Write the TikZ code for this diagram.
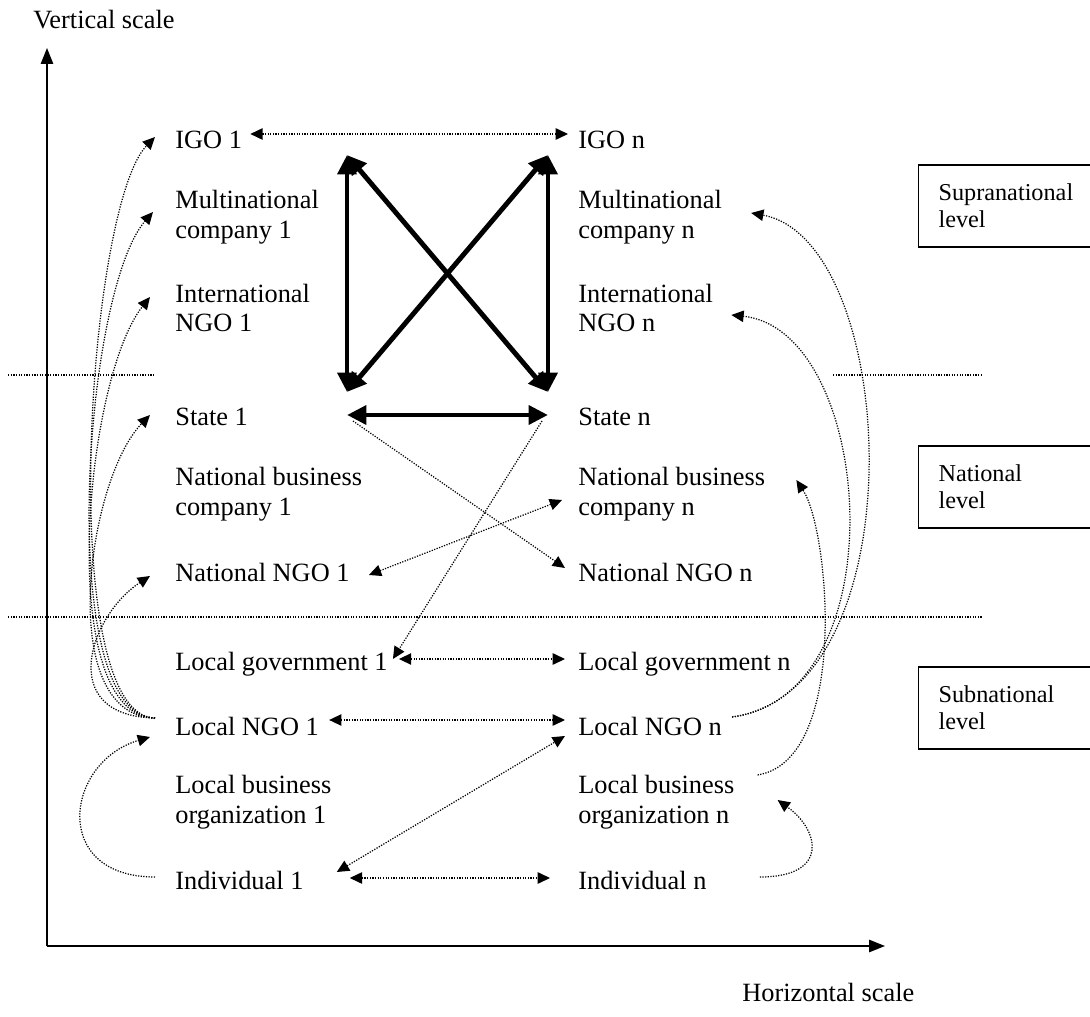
\documentclass[tikz,border=0pt]{standalone}
\usepackage{fontspec}
\setmainfont{Liberation Serif}
\usetikzlibrary{arrows.meta,calc}

\begin{document}
\begin{tikzpicture}[
        x=0.02cm, y=-0.02cm,
        actor/.style={anchor=west, align=left, inner sep=0pt, font=\fontsize{15}{17}\selectfont},
        link/.style={line width=0.7pt, dash pattern=on 0.7pt off 0.8pt, -{Triangle[length=7pt,width=6.5pt]}},
        twolink/.style={link, {Triangle[length=7pt,width=6.5pt]}-{Triangle[length=7pt,width=6.5pt]}},
        bond/.style={line width=2.8pt, {Triangle[length=11pt,width=10.5pt]}-{Triangle[length=11pt,width=10.5pt]}},
        divider/.style={line width=0.7pt, dash pattern=on 0.7pt off 0.8pt},
        axis/.style={line width=0.8pt, -{Triangle[length=9pt,width=7pt]}},
        levelbox/.style={draw, line width=0.8pt, anchor=west, align=left, text width=77pt,
            minimum height=46.5pt, inner xsep=11.3pt, font=\fontsize{13.8}{15.4}\selectfont}
    ]
        \useasboundingbox (0,0) rectangle (1090,1017);

        % Achsen
        \coordinate (origin) at (47,946);
        \coordinate (vtop) at (47,48);
        \coordinate (hend) at (885,946);
        \draw[axis] (origin) -- (vtop);
        \draw[axis] (origin) -- (hend);
        \node[actor] (vlabel) at (33,20) {Vertical scale};
        \node[actor] (hlabel) at (742,992) {Horizontal scale};

        % Trennlinien der Ebenen
        \draw[divider] (8,375) -- (155,375);
        \draw[divider] (833,375) -- (982,375);
        \draw[divider] (8,617) -- (982,617);

        % Ebenen
        \node[levelbox] (supra) at (918,206) {Supranational\\level};
        \node[levelbox] (natl) at (918,487) {National\\level};
        \node[levelbox] (subn) at (918,708) {Subnational\\level};

        % Akteure links
        \node[actor] (igoA) at (175,140) {IGO 1};
        \node[actor] (mncA) at (175,217) {Multinational\\company 1};
        \node[actor] (ingoA) at (175,308) {International\\NGO 1};
        \node[actor] (stateA) at (175,417) {State 1};
        \node[actor] (nbizA) at (175,494) {National business\\company 1};
        \node[actor] (nngoA) at (175,572) {National NGO 1};
        \node[actor] (lgovA) at (175,664) {Local government 1};
        \node[actor] (lngoA) at (175,726) {Local NGO 1};
        \node[actor] (lbizA) at (175,802) {Local business\\organization 1};
        \node[actor] (indA) at (175,880) {Individual 1};

        % Akteure rechts
        \node[actor] (igoB) at (578,140) {IGO n};
        \node[actor] (mncB) at (578,217) {Multinational\\company n};
        \node[actor] (ingoB) at (578,308) {International\\NGO n};
        \node[actor] (stateB) at (578,417) {State n};
        \node[actor] (nbizB) at (578,494) {National business\\company n};
        \node[actor] (nngoB) at (578,572) {National NGO n};
        \node[actor] (lgovB) at (578,664) {Local government n};
        \node[actor] (lngoB) at (578,726) {Local NGO n};
        \node[actor] (lbizB) at (578,802) {Local business\\organization n};
        \node[actor] (indB) at (578,880) {Individual n};

        % Staaten und IGOs
        \coordinate (sqTL) at (347,155);
        \coordinate (sqTR) at (548,155);
        \coordinate (sqBL) at (347,392);
        \coordinate (sqBR) at (548,392);
        \coordinate (hubL) at (347,415);
        \coordinate (hubR) at (548,415);
        \draw[bond] (sqTL) -- (sqBL);
        \draw[bond] (sqTR) -- (sqBR);
        \draw[bond] (sqTL) -- (sqBR);
        \draw[bond] (sqTR) -- (sqBL);
        \draw[bond] (hubL) -- (hubR);

        % horizontale Verbindungen
        \draw[twolink] ($(igoA.east)+(8,-6)$) -- ($(igoB.west)+(-10,-6)$);
        \draw[twolink] ($(nngoA.east)+(19,3)$) -- ($(nbizB.west)+(-16,6)$);
        \draw[twolink] ($(lgovA.east)+(11,-5)$) -- ($(lgovB.west)+(-13,-5)$);
        \draw[twolink] ($(lngoA.east)+(10,-6)$) -- ($(lngoB.west)+(-13,-6)$);
        \draw[twolink] ($(indA.east)+(33,-8)$) -- ($(lngoB.west)+(-13,10)$);
        \draw[twolink] ($(indA.east)+(46,-2)$) -- ($(indB.west)+(-28,-2)$);
        \draw[link] ($(hubL)+(6,6)$) -- ($(nngoB.west)+(-13,-4)$);
        \draw[link] ($(hubR)+(-6,6)$) -- ($(lgovA.east)+(5,-5)$);

        % links: Local NGO 1 nach oben
        \coordinate (fanA) at ($(lngoA.west)+(-20,-8)$);
        \draw[link] (fanA) .. controls +(-100,-2) and +(-68,70) .. ($(igoA.west)+(-20,-3)$);
        \draw[link] (fanA) .. controls +(-100,-2) and +(-70,80) .. ($(mncA.west)+(-22,-5)$);
        \draw[link] (fanA) .. controls +(-100,-2) and +(-66,83) .. ($(ingoA.west)+(-25,-11)$);
        \draw[link] (fanA) .. controls +(-100,-2) and +(-63,65) .. ($(stateA.west)+(-25,-2)$);
        \draw[link] (fanA) .. controls +(-100,-2) and +(-60,39) .. ($(nngoA.west)+(-25,4)$);
        \draw[link] ($(indA.west)+(-20,-3)$) .. controls +(-105,0) and +(-85,25) .. ($(lngoA.west)+(-25,11)$);

        % rechts: lokale Akteure nach oben
        \coordinate (fanB) at ($(lngoB.east)+(10,-9)$);
        \draw[link] (fanB) .. controls +(188,-27) and +(148,27) .. ($(mncB.east)+(29,-4)$);
        \draw[link] (fanB) .. controls +(168,-22) and +(143,15) .. ($(ingoB.east)+(18,7)$);
        \draw[link] ($(lbizB.east)+(23,-27)$) .. controls +(92,-15) and +(33,50) .. ($(nbizB.east)+(31,-14)$);
        \draw[link] ($(indB.east)+(53,-3)$) .. controls +(70,0) and +(42,30) .. ($(lbizB.east)+(43,-2)$);
    \end{tikzpicture}
\end{document}
